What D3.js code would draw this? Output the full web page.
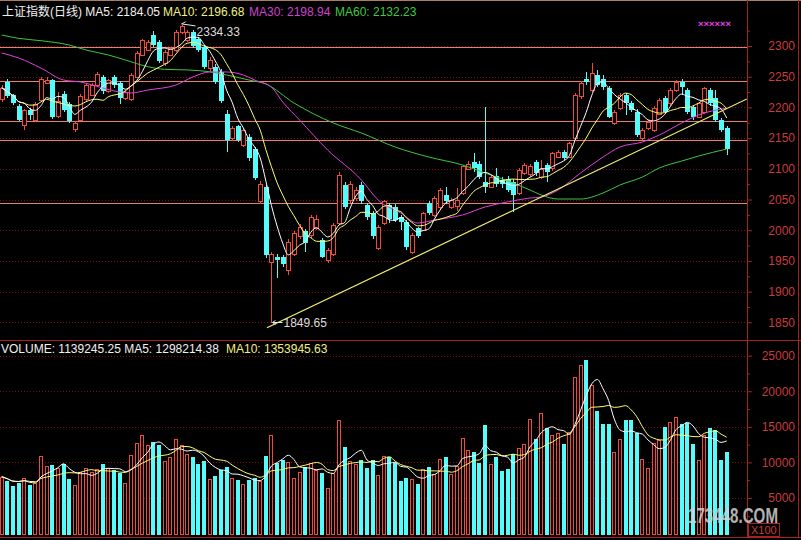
<!DOCTYPE html>
<html lang="zh">
<head>
<meta charset="UTF-8">
<title>上证指数(日线)</title>
<script src="https://d3js.org/d3.v7.min.js"></script>
<style>
  html, body { margin: 0; padding: 0; background: #000; }
  svg { display: block; }
  text { font-family: "Liberation Sans", Arial, "Noto Sans CJK SC", sans-serif; }
</style>
</head>
<body>
<div id="chart"></div>
<script>
// daily OHLC (130 sessions)
const opens = [
  2213,2242,2220,2202,2171,2196,2180,2212,2240,2244,
  2186,2222,2205,2165,2180,2213,2221,2236,2250,2226,
  2250,2240,2215,2213,2250,2286,2294,2318,2307,2272,
  2285,2294,2323,2310,2323,2312,2299,2264,2266,2258,
  2190,2150,2169,2139,2152,2133,2047,2071,1949,1957,
  1956,1935,1962,1990,1998,1992,2003,1984,1952,1962,
  2011,2074,2049,2052,2074,2041,2028,1971,2011,2041,
  2038,2022,2014,1965,2003,2000,2044,2025,2038,2057,
  2038,2040,2060,2100,2111,2108,2078,2071,2089,2082,
  2084,2079,2060,2093,2092,2111,2087,2106,2101,2120,
  2128,2120,2150,2218,2247,2228,2253,2247,2231,2174,
  2199,2220,2207,2193,2150,2166,2163,2190,2215,2207,
  2228,2242,2228,2201,2185,2193,2228,2215,2180,2166
];
const highs = [
  2236,2246,2222,2205,2198,2199,2208,2250,2250,2247,
  2225,2226,2208,2178,2222,2240,2240,2258,2253,2247,
  2253,2243,2228,2256,2292,2312,2310,2324,2310,2294,
  2299,2326,2334.33,2326,2326,2315,2302,2282,2270,2262,
  2195,2170,2172,2166,2156,2136,2080,2074,1965,1962,
  1960,1985,1998,2010,2002,2025,2025,1988,1971,2012,
  2095,2078,2080,2070,2079,2045,2031,2009,2050,2045,
  2042,2025,2017,1995,2006,2030,2047,2055,2068,2071,
  2052,2068,2106,2112,2125,2112,2200,2090,2101,2087,
  2088,2084,2101,2110,2108,2115,2114,2109,2128,2131,
  2131,2144,2224,2243,2258,2272,2261,2252,2235,2196,
  2224,2224,2210,2197,2166,2180,2202,2216,2218,2232,
  2245,2246,2232,2204,2209,2234,2232,2228,2183,2169
];
const lows = [
  2208,2215,2204,2178,2164,2180,2177,2210,2238,2181,
  2182,2193,2175,2160,2178,2211,2218,2233,2222,2223,
  2232,2206,2212,2210,2248,2283,2292,2299,2272,2268,
  2283,2291,2320,2307,2297,2290,2262,2260,2238,2207,
  2128,2145,2144,2135,2113,2081,2042,1955,1849.65,1922,
  1940,1927,1958,1985,1965,1988,2000,1954,1946,1958,
  2008,2035,2045,2048,2043,2017,1986,1967,2008,2011,
  2014,2000,1968,1962,1987,1998,2025,2022,2035,2043,
  2035,2032,2057,2098,2095,2084,2060,2068,2070,2068,
  2062,2030,2057,2090,2088,2089,2084,2079,2097,2117,
  2114,2117,2146,2214,2236,2225,2233,2228,2182,2171,
  2195,2188,2192,2152,2147,2163,2160,2187,2190,2203,
  2225,2220,2190,2180,2182,2190,2203,2176,2160,2122
];
const closes = [
  2232,2219,2207,2180,2196,2188,2205,2246,2245,2184,
  2210,2196,2178,2175,2218,2236,2236,2255,2227,2244,
  2237,2215,2225,2253,2288,2309,2307,2302,2275,2291,
  2296,2323,2332,2322,2300,2293,2266,2277,2242,2210,
  2147,2166,2147,2163,2117,2085,2076,1960,1962,1951,
  1945,1981,1995,2006,1979,2022,2019,1957,1968,2008,
  2090,2038,2076,2066,2047,2022,1990,2006,2047,2019,
  2017,2014,1973,1992,1990,2028,2028,2052,2066,2047,
  2049,2050,2104,2108,2101,2087,2071,2087,2076,2076,
  2066,2057,2098,2106,2105,2093,2100,2095,2125,2128,
  2117,2142,2220,2239,2242,2256,2237,2234,2185,2193,
  2220,2207,2196,2155,2163,2177,2199,2212,2193,2228,
  2242,2234,2193,2185,2207,2231,2207,2180,2163,2133
];
// volume in units of x100
const volumes = [
  8000,7400,6700,7150,7860,6830,7070,10900,9500,9650,
  9180,9740,7670,6830,8610,9180,8610,9080,9790,9180,
  8940,8470,7150,11050,12700,13870,12460,12840,12460,10200,
  10810,13300,12460,11190,10810,9740,10200,7670,8140,8940,
  9320,7770,7530,7010,7530,7770,7390,10910,13870,9880,
  10350,10020,7860,8700,9320,9970,8940,8470,6360,8470,
  15980,12220,10200,9740,10350,9180,10300,8240,10910,10730,
  9880,7390,7770,7670,7010,9040,9320,8380,10490,10730,
  8380,9550,13490,11760,11430,9970,15280,9790,10730,8840,
  9080,11150,12000,12560,16120,13300,16920,14810,13870,14110,
  12600,14250,21940,23730,24430,20910,17250,15420,15420,11430,
  13300,15980,15980,14110,10490,9180,12700,13160,15040,15740,
  16450,15370,15510,12600,10350,13870,14900,14570,10350,11392
];

// MA30 / MA60 at some sessions
const ma30Idx = [0,3,7,11,14,18,21,23,26,31,34,37,40,43,45,48,50,53,58,64,67,71,74,77,82,86,90,94,96,99,103,107,110,114,117,121,124,129];
const ma30Val = [2288.6,2280.5,2264,2244.6,2241.4,2231.6,2225,2223.5,2228.3,2236.5,2249.5,2257.7,2257.7,2252.8,2244.6,2233,2208.8,2179.5,2130.6,2081.8,2049,2028,2011.7,2016.6,2024.8,2037.8,2046,2052.4,2054,2065.5,2093.2,2119.2,2135.5,2143.6,2155,2174.6,2187.6,2198.94];
const ma60Idx = [0,3,7,12,15,19,22,26,29,33,37,40,44,47,52,59,64,70,76,82,86,91,94,96,99,103,107,110,114,117,121,124,129];
const ma60Val = [2317.9,2312.5,2308.6,2301.6,2293.5,2285.3,2277.2,2266.3,2262,2261,2258.1,2252.8,2244.6,2238.1,2207.2,2174.6,2158.3,2135.5,2119.2,2106.2,2093.2,2076.9,2065.5,2057.3,2050.8,2050.8,2060.6,2073.6,2086.6,2101.3,2112.7,2120.8,2132.23];

// user drawn lines
const hLevels = [2297.9, 2243, 2178, 2146.4, 2044.8];
const trendIdx = [47.2, 132.6];
const trendVal = [1841, 2213.7];

const priceTicks = [2300, 2250, 2200, 2150, 2100, 2050, 2000, 1950, 1900, 1850];
const priceMinor = [2325, 2275, 2225, 2175, 2125, 2075, 2025, 1975, 1925, 1875];
const volTicks = [25000, 20000, 15000, 10000, 5000];
const volMinor = [22500, 17500, 12500, 7500, 2500];

const W = 801, H = 540;
const axisX = 747;
const RED = "#f04a3a", CYAN = "#54fcfc";
const AXIS_RED = "#a82020", LABEL_RED = "#c83c3c";

function movingAvg(arr, n) {
  return arr.map((_, i) => d3.mean(arr.slice(Math.max(0, i - n + 1), i + 1)));
}

const svg = d3.select("#chart").append("svg")
  .attr("width", W).attr("height", H)
  .style("background", "#000");

const x = d3.scaleLinear().domain([0, 129]).range([1.7, 726.7]);
const yP = d3.scaleLinear().domain([1850, 2300]).range([322.3, 46]);
const yV = d3.scaleLinear().domain([0, 25000]).range([533.5, 355.7]);

svg.append("clipPath").attr("id", "priceClip")
  .append("rect").attr("x", 0).attr("y", 20).attr("width", axisX).attr("height", 318);

// dotted grid
svg.append("g").selectAll("line").data(priceTicks).join("line")
  .attr("x1", 0).attr("x2", axisX)
  .attr("y1", d => Math.round(yP(d)) + 0.5).attr("y2", d => Math.round(yP(d)) + 0.5)
  .attr("stroke", "#7a1010").attr("stroke-dasharray", "1,2");
svg.append("g").selectAll("line").data(volTicks).join("line")
  .attr("x1", 0).attr("x2", axisX)
  .attr("y1", d => Math.round(yV(d)) + 0.5).attr("y2", d => Math.round(yV(d)) + 0.5)
  .attr("stroke", "#7a1010").attr("stroke-dasharray", "1,2");

// horizontal level lines
svg.append("g").selectAll("line").data(hLevels).join("line")
  .attr("x1", 0).attr("x2", axisX)
  .attr("y1", d => Math.round(yP(d)) + 0.5).attr("y2", d => Math.round(yP(d)) + 0.5)
  .attr("stroke", "#e8806a").attr("stroke-width", 1.2);

// frame
const frame = svg.append("g").attr("shape-rendering", "crispEdges");
frame.append("line").attr("x1", 0).attr("x2", W).attr("y1", 0.5).attr("y2", 0.5).attr("stroke", "#a88060");
frame.append("line").attr("x1", axisX + 0.5).attr("x2", axisX + 0.5).attr("y1", 0).attr("y2", 538).attr("stroke", AXIS_RED);
frame.append("line").attr("x1", 798.5).attr("x2", 798.5).attr("y1", 0).attr("y2", 538).attr("stroke", AXIS_RED);
frame.append("line").attr("x1", 0).attr("x2", W).attr("y1", 340.5).attr("y2", 340.5).attr("stroke", AXIS_RED);
frame.append("line").attr("x1", 0).attr("x2", W).attr("y1", 537.5).attr("y2", 537.5).attr("stroke", AXIS_RED);

// axes
function styleAxis(g) {
  g.select(".domain").remove();
  g.selectAll(".tick line").attr("stroke", AXIS_RED);
  g.selectAll(".tick text")
    .attr("x", 48).attr("text-anchor", "end")
    .attr("fill", LABEL_RED).style("font-size", "12px")
    .style("font-family", "'Liberation Sans', Arial, sans-serif");
}
svg.append("g").attr("transform", `translate(${axisX},0)`)
  .call(d3.axisRight(yP).tickValues(priceTicks).tickSize(5).tickSizeOuter(0).tickFormat(d3.format("d")))
  .call(styleAxis);
svg.append("g").attr("transform", `translate(${axisX},0)`)
  .call(d3.axisRight(yP).tickValues(priceMinor).tickSize(3).tickSizeOuter(0).tickFormat(""))
  .call(styleAxis);
svg.append("g").attr("transform", `translate(${axisX},0)`)
  .call(d3.axisRight(yV).tickValues(volTicks).tickSize(5).tickSizeOuter(0).tickFormat(d3.format("d")))
  .call(styleAxis);
svg.append("g").attr("transform", `translate(${axisX},0)`)
  .call(d3.axisRight(yV).tickValues(volMinor).tickSize(3).tickSizeOuter(0).tickFormat(""))
  .call(styleAxis);

// candles
const bars = opens.map((o, i) => ({ i, o, h: highs[i], l: lows[i], c: closes[i], v: volumes[i], up: closes[i] >= o }));

const candles = svg.append("g").attr("shape-rendering", "crispEdges");
bars.forEach(d => {
  const cx = Math.round(x(d.i));
  const top = Math.round(yP(Math.max(d.o, d.c)));
  const bot = Math.round(yP(Math.min(d.o, d.c)));
  const yh = Math.round(yP(d.h)), yl = Math.round(yP(d.l));
  if (d.up) {
    candles.append("line").attr("x1", cx + 0.5).attr("x2", cx + 0.5).attr("y1", yh).attr("y2", top).attr("stroke", RED);
    candles.append("line").attr("x1", cx + 0.5).attr("x2", cx + 0.5).attr("y1", Math.max(bot, top + 1)).attr("y2", yl).attr("stroke", RED);
    candles.append("rect").attr("x", cx - 1.5).attr("y", top + 0.5)
      .attr("width", 4).attr("height", Math.max(bot - top, 1))
      .attr("fill", "#000").attr("stroke", RED);
  } else {
    candles.append("line").attr("x1", cx + 0.5).attr("x2", cx + 0.5).attr("y1", yh).attr("y2", yl).attr("stroke", CYAN);
    candles.append("rect").attr("x", cx - 2).attr("y", top)
      .attr("width", 5).attr("height", Math.max(bot - top, 1))
      .attr("fill", CYAN);
  }
});

// volume bars
const vg = svg.append("g").attr("shape-rendering", "crispEdges");
bars.forEach(d => {
  const cx = Math.round(x(d.i));
  const top = Math.round(yV(d.v));
  const base = Math.round(yV(0));
  if (d.up) {
    vg.append("rect").attr("x", cx - 1.5).attr("y", top + 0.5)
      .attr("width", 3).attr("height", base - top)
      .attr("fill", "#000").attr("stroke", RED);
  } else {
    vg.append("rect").attr("x", cx - 2).attr("y", top)
      .attr("width", 4).attr("height", base - top + 1)
      .attr("fill", CYAN);
  }
});

// moving averages
const maLine = scale => d3.line().x((d, i) => x(i)).y(d => scale(d)).curve(d3.curveMonotoneX);
const pairLine = d3.line().x(d => x(d[0])).y(d => yP(d[1])).curve(d3.curveMonotoneX);
const maG = svg.append("g").attr("fill", "none").attr("clip-path", "url(#priceClip)");
maG.append("path").attr("d", pairLine(d3.zip(ma60Idx, ma60Val))).attr("stroke", "#3cc83c");
maG.append("path").attr("d", pairLine(d3.zip(ma30Idx, ma30Val))).attr("stroke", "#e040e0");
maG.append("path").attr("d", maLine(yP)(movingAvg(closes, 10))).attr("stroke", "#ffff70");
maG.append("path").attr("d", maLine(yP)(movingAvg(closes, 5))).attr("stroke", "#ffffff");

const vmaG = svg.append("g").attr("fill", "none");
vmaG.append("path").attr("d", maLine(yV)(movingAvg(volumes, 10))).attr("stroke", "#ffff70");
vmaG.append("path").attr("d", maLine(yV)(movingAvg(volumes, 5))).attr("stroke", "#ffffff");

// trend line
svg.append("line").attr("clip-path", "url(#priceClip)")
  .attr("x1", x(trendIdx[0])).attr("y1", yP(trendVal[0]))
  .attr("x2", x(trendIdx[1])).attr("y2", yP(trendVal[1]))
  .attr("stroke", "#f0f070").attr("stroke-width", 1.2);

// high / low marks
const iHigh = highs.indexOf(d3.max(highs));
const iLow = lows.indexOf(d3.min(lows));
const ann = svg.append("g").attr("fill", "#dcdcdc").style("font-size", "12px");
ann.append("path")
  .attr("d", `M${x(iHigh)},${yP(highs[iHigh]) - 1} l4,-2 M${x(iHigh)},${yP(highs[iHigh]) - 1} L${x(iHigh) + 14},${yP(highs[iHigh]) + 1}`)
  .attr("stroke", "#e8e8e8").attr("fill", "none");
ann.append("text").attr("x", x(iHigh) + 15).attr("y", yP(highs[iHigh]) + 11).text(d3.format(".2f")(highs[iHigh]));
ann.append("path")
  .attr("d", `M${x(iLow) + 1},${yP(lows[iLow])} l3,-2 M${x(iLow) + 1},${yP(lows[iLow])} l3,2 M${x(iLow) + 1},${yP(lows[iLow])} h10`)
  .attr("stroke", "#e8e8e8").attr("fill", "none");
ann.append("text").attr("x", x(iLow) + 12).attr("y", yP(lows[iLow]) + 4.5).text(d3.format(".2f")(lows[iLow]));

// headers
const head = svg.append("g").style("font-size", "12px");
const lastMa5 = d3.mean(closes.slice(-5));
head.append("text").attr("x", 2).attr("y", 16).attr("fill", "#f0f0f0").text("上证指数(日线) MA5: 2184.05");
head.append("text").attr("x", 163).attr("y", 16).attr("fill", "#f0f080").text("MA10: 2196.68");
head.append("text").attr("x", 249).attr("y", 16).attr("fill", "#d040d0").text("MA30: 2198.94");
head.append("text").attr("x", 335).attr("y", 16).attr("fill", "#40c840").text("MA60: 2132.23");
head.append("text").attr("x", 1).attr("y", 353).attr("fill", "#f0f0f0").text("VOLUME: 1139245.25 MA5: 1298214.38");
head.append("text").attr("x", 226).attr("y", 353).attr("fill", "#f0f080").text("MA10: 1353945.63");

// small marker top right
svg.append("text").attr("x", 698).attr("y", 27).attr("fill", "#e040e0")
  .attr("textLength", 33).attr("lengthAdjust", "spacingAndGlyphs")
  .style("font-size", "9px").style("font-weight", "bold").text("××××××");

// watermark and unit box
svg.append("text").attr("x", 688).attr("y", 523)
  .attr("textLength", 90).attr("lengthAdjust", "spacingAndGlyphs")
  .attr("fill", "#d0d0d0").attr("opacity", 0.85)
  .style("font-size", "22px").style("font-weight", "bold").text("173448.COM");
svg.append("rect").attr("x", 748.5).attr("y", 523.5).attr("width", 31).attr("height", 13)
  .attr("fill", "none").attr("stroke", AXIS_RED);
svg.append("text").attr("x", 751).attr("y", 534).attr("fill", LABEL_RED)
  .style("font-size", "11px").text("X100");
</script>
</body>
</html>
